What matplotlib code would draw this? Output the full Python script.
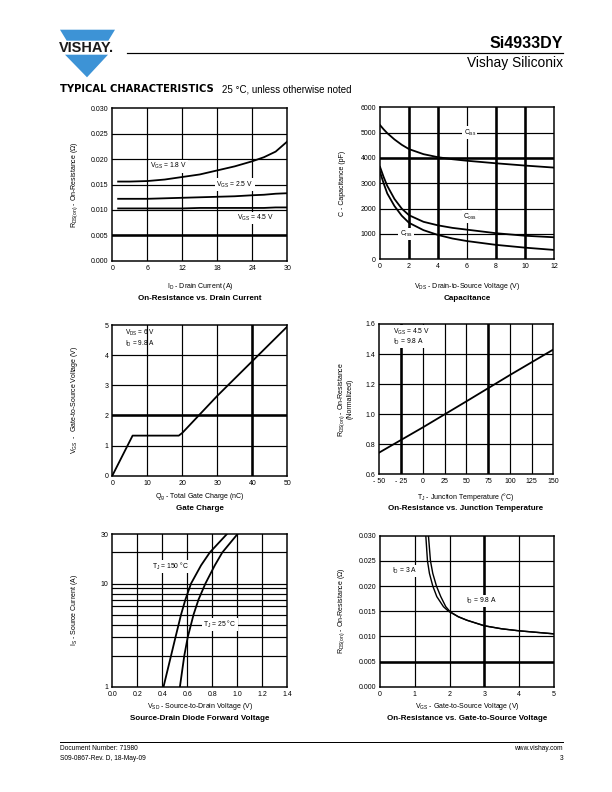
import matplotlib
matplotlib.use("Agg")
import matplotlib.pyplot as plt
from matplotlib.patches import Polygon
import numpy as np

plt.rcParams['font.family'] = ['Liberation Sans', 'DejaVu Sans']
plt.rcParams['mathtext.fontset'] = 'custom'
plt.rcParams['mathtext.rm'] = 'Liberation Sans'
plt.rcParams['mathtext.it'] = 'Liberation Sans:italic'
plt.rcParams['mathtext.default'] = 'regular'

# --- data ---
# on-resistance vs drain current
id_a = [1, 3, 6, 9, 12, 15, 18, 21, 24, 26, 28, 30]
rds_18 = [0.0156, 0.0156, 0.0157, 0.0160, 0.0165, 0.0170, 0.0178, 0.0186, 0.0196, 0.0204, 0.0215, 0.0235]
rds_25 = [0.0122, 0.0122, 0.0122, 0.0123, 0.0124, 0.0125, 0.0126, 0.0127, 0.0129, 0.0130, 0.0132, 0.0133]
rds_45 = [0.0103, 0.0103, 0.0103, 0.0103, 0.0103, 0.0104, 0.0104, 0.0104, 0.0104, 0.0104, 0.0105, 0.0105]

# capacitance
vds = [0, 0.25, 0.5, 1, 1.5, 2, 3, 4, 5, 6, 8, 10, 12]
ciss = [5300, 5130, 4980, 4730, 4520, 4350, 4150, 4030, 3950, 3890, 3790, 3700, 3620]
coss = [3650, 3250, 2900, 2380, 2000, 1740, 1480, 1340, 1240, 1170, 1030, 930, 870]
crss = [3450, 3000, 2600, 2100, 1720, 1440, 1150, 960, 820, 720, 570, 460, 370]

# gate charge
qg = [0, 5.8, 19, 20, 30, 40, 50]
vgs_q = [0, 1.33, 1.33, 1.42, 2.65, 3.8, 4.95]

# on-resistance vs junction temperature
tj = [-50, 0, 50, 100, 150]
r_norm = [0.745, 0.912, 1.085, 1.26, 1.43]

# source-drain diode
is_a = [1, 2, 3, 5, 7, 10, 15, 20, 30]
vsd_150 = [0.41, 0.47, 0.505, 0.55, 0.585, 0.63, 0.71, 0.78, 0.915]
vsd_25 = [0.541, 0.576, 0.603, 0.65, 0.69, 0.745, 0.82, 0.88, 1.0]

# on-resistance vs gate-to-source voltage
vgs_3a = [1.316, 1.364, 1.421, 1.517, 1.632, 1.823, 1.967, 2.25, 2.5, 3, 3.5, 4, 4.5, 5]
r_3a = [0.030, 0.025, 0.0225, 0.020, 0.0179, 0.0159, 0.0150, 0.0139, 0.0132, 0.0121, 0.0115, 0.0111, 0.0108, 0.0105]
vgs_98 = [1.392, 1.450, 1.517, 1.622, 1.746, 1.89, 2.014, 2.25, 2.5, 3, 3.5, 4, 4.5, 5]
r_98 = [0.030, 0.025, 0.0225, 0.020, 0.0179, 0.0159, 0.0149, 0.0139, 0.0132, 0.0121, 0.0115, 0.0111, 0.0108, 0.0105]

W, H = 612, 792
fig = plt.figure(figsize=(W / 72, H / 72), dpi=72)

TICK = 7
LAB = 7
INNER = 6.8
TITLE = 8

def px(x, y):
    return x / W, 1 - y / H

def panel(l, r, t, b):
    ax = fig.add_axes([l / W, 1 - b / H, (r - l) / W, (b - t) / H])
    for s in ax.spines.values():
        s.set_linewidth(1.5)
    ax.tick_params(which='both', length=0, pad=4, labelsize=TICK)
    return ax

def grid(ax, xs, ys, thick_x=(), thick_y=()):
    for x in xs:
        ax.axvline(x, color='black', lw=2.6 if x in thick_x else 1.2, zorder=1)
    for y in ys:
        ax.axhline(y, color='black', lw=2.6 if y in thick_y else 1.2, zorder=1)

def lab(ax, x, y, s, **kw):
    kw.setdefault('ha', 'center')
    ax.text(x, y, s, fontsize=INNER, va='center', zorder=3, linespacing=1.05,
            bbox=dict(facecolor='white', edgecolor='none', pad=1.2), **kw)

def ftext(x, y, s, **kw):
    kw.setdefault('fontsize', LAB)
    kw.setdefault('ha', 'center')
    kw.setdefault('va', 'center')
    fig.text(*px(x, y), s, **kw)

LW = 1.8

# --- panel 1 ---
ax = panel(112.3, 287.3, 108.5, 260.7)
ax.set_xlim(0, 30); ax.set_ylim(0, 0.030)
ax.set_xticks([0, 6, 12, 18, 24, 30])
ax.set_yticks([0, 0.005, 0.010, 0.015, 0.020, 0.025, 0.030])
ax.set_yticklabels(['0.000', '0.005', '0.010', '0.015', '0.020', '0.025', '0.030'])
grid(ax, [6, 12, 18, 24], [0.005, 0.010, 0.015, 0.020, 0.025], thick_y=(0.005,))
ax.plot(id_a, rds_18, color='black', lw=LW, zorder=4)
ax.plot(id_a, rds_25, color='black', lw=LW, zorder=4)
ax.plot(id_a, rds_45, color='black', lw=LW, zorder=4)
lab(ax, 9.6, 0.0186, '$V_{GS}$ = 1.8 V')
lab(ax, 21.0, 0.0150, '$V_{GS}$ = 2.5 V')
lab(ax, 24.6, 0.0084, '$V_{GS}$ = 4.5 V')
ftext(75, 185, '$R_{DS(on)}$ - On-Resistance (Ω)', rotation=90)
ftext(200, 287, '$I_D$ - Drain Current (A)')
ftext(200, 298.5, 'On-Resistance vs. Drain Current', fontweight='bold', fontsize=TITLE)

# --- panel 2 ---
ax = panel(380, 554, 107.3, 259.3)
ax.set_xlim(0, 12); ax.set_ylim(0, 6000)
ax.set_xticks([0, 2, 4, 6, 8, 10, 12])
ax.set_yticks([0, 1000, 2000, 3000, 4000, 5000, 6000])
grid(ax, [2, 4, 6, 8, 10], [1000, 2000, 3000, 4000, 5000], thick_x=(2, 4, 8, 10), thick_y=(4000,))
ax.plot(vds, ciss, color='black', lw=LW, zorder=4)
ax.plot(vds, coss, color='black', lw=LW, zorder=4)
ax.plot(vds, crss, color='black', lw=LW, zorder=4)
lab(ax, 6.2, 5000, '$C_{iss}$')
lab(ax, 6.2, 1680, '$C_{oss}$')
lab(ax, 1.8, 1000, '$C_{rss}$')
ftext(342, 183, 'C - Capacitance (pF)', rotation=90)
ftext(467, 286.5, '$V_{DS}$ - Drain-to-Source Voltage (V)')
ftext(467, 298.5, 'Capacitance', fontweight='bold', fontsize=TITLE)

# --- panel 3 ---
ax = panel(112.3, 287.3, 325, 475.7)
ax.set_xlim(0, 50); ax.set_ylim(0, 5)
ax.set_xticks([0, 10, 20, 30, 40, 50])
ax.set_yticks([0, 1, 2, 3, 4, 5])
grid(ax, [10, 20, 30, 40], [1, 2, 3, 4], thick_x=(40,), thick_y=(2,))
ax.plot(qg, vgs_q, color='black', lw=LW, zorder=4)
ax.text(3.6, 4.56, '$V_{DS}$ = 6 V\n$I_D$ = 9.8 A', fontsize=6.5, ha='left', va='center',
        linespacing=1.05, zorder=3)
ftext(75, 400, '$V_{GS}$  -  Gate-to-Source Voltage (V)', rotation=90)
ftext(200, 497, '$Q_g$ - Total Gate Charge (nC)')
ftext(200, 509, 'Gate Charge', fontweight='bold', fontsize=TITLE)

# --- panel 4 ---
ax = panel(379.3, 553.3, 324, 474.3)
ax.set_xlim(-50, 150); ax.set_ylim(0.6, 1.6)
ax.set_xticks([-50, -25, 0, 25, 50, 75, 100, 125, 150])
ax.set_xticklabels(['- 50', '- 25', '0', '25', '50', '75', '100', '125', '150'])
ax.set_yticks([0.6, 0.8, 1.0, 1.2, 1.4, 1.6])
ax.set_yticklabels(['0.6', '0.8', '1.0', '1.2', '1.4', '1.6'])
grid(ax, [-25, 0, 25, 50, 75, 100, 125], [0.8, 1.0, 1.2, 1.4], thick_x=(-25, 75))
ax.plot(tj, r_norm, color='black', lw=LW, zorder=4)
lab(ax, -34, 1.515, '$V_{GS}$ = 4.5 V\n$I_D$ = 9.8 A', ha='left')
ftext(345, 399, '$R_{DS(on)}$ - On-Resistance\n(Normalized)', rotation=90, linespacing=1.0)
ftext(466, 497, '$T_J$ - Junction Temperature (°C)')
ftext(466, 509, 'On-Resistance vs. Junction Temperature', fontweight='bold', fontsize=TITLE)

# --- panel 5 ---
ax = panel(112.3, 287.3, 534.3, 686.7)
ax.set_yscale('log')
ax.set_xlim(0, 1.4); ax.set_ylim(1, 30)
ax.set_xticks([0, 0.2, 0.4, 0.6, 0.8, 1.0, 1.2, 1.4])
ax.set_xticklabels(['0.0', '0.2', '0.4', '0.6', '0.8', '1.0', '1.2', '1.4'])
ax.set_yticks([1, 10, 30])
ax.set_yticklabels(['1', '10', '30'])
ax.minorticks_off()
ax.tick_params(which='both', length=0)
grid(ax, [0.2, 0.4, 0.6, 0.8, 1.0, 1.2], [2, 3, 4, 5, 6, 7, 8, 9, 10, 20])
ax.plot(vsd_150, is_a, color='black', lw=LW, zorder=4)
ax.plot(vsd_25, is_a, color='black', lw=LW, zorder=4)
lab(ax, 0.467, 14.6, '$T_J$ = 150 °C')
lab(ax, 0.862, 4.0, '$T_J$ = 25 °C')
ftext(75, 610, '$I_S$ - Source Current (A)', rotation=90)
ftext(200, 707, '$V_{SD}$ - Source-to-Drain Voltage (V)')
ftext(200, 719, 'Source-Drain Diode Forward Voltage', fontweight='bold', fontsize=TITLE)

# --- panel 6 ---
ax = panel(380, 554, 535.7, 686.7)
ax.set_xlim(0, 5); ax.set_ylim(0, 0.030)
ax.set_xticks([0, 1, 2, 3, 4, 5])
ax.set_yticks([0, 0.005, 0.010, 0.015, 0.020, 0.025, 0.030])
ax.set_yticklabels(['0.000', '0.005', '0.010', '0.015', '0.020', '0.025', '0.030'])
grid(ax, [1, 2, 3, 4], [0.005, 0.010, 0.015, 0.020, 0.025], thick_x=(3,), thick_y=(0.005,))
ax.plot(vgs_3a, r_3a, color='black', lw=1.4, zorder=4)
ax.plot(vgs_98, r_98, color='black', lw=1.4, zorder=4)
lab(ax, 0.72, 0.0230, '$I_D$ = 3 A')
lab(ax, 2.91, 0.0170, '$I_D$ = 9.8 A')
ftext(342, 611, '$R_{DS(on)}$ - On-Resistance (Ω)', rotation=90)
ftext(467, 707, '$V_{GS}$ - Gate-to-Source Voltage (V)')
ftext(467, 719, 'On-Resistance vs. Gate-to-Source Voltage', fontweight='bold', fontsize=TITLE)

# --- page header ---
blue = '#3d93d6'
fig.patches.append(Polygon([px(60, 29.7), px(115, 29.7), px(108.3, 40.7), px(66.7, 40.7)],
                           closed=True, facecolor=blue, edgecolor='none', transform=fig.transFigure))
fig.patches.append(Polygon([px(65, 54.7), px(108, 54.7), px(87, 77.3)],
                           closed=True, facecolor=blue, edgecolor='none', transform=fig.transFigure))
ftext(59, 48.5, 'VISHAY.', fontsize=14.5, fontweight='bold', ha='left', color='#1a1a1a')
fig.add_artist(plt.Line2D([127 / W, 563 / W], [1 - 53 / H, 1 - 53 / H], color='black', lw=1.2,
                          transform=fig.transFigure))
ftext(563, 44, 'Si4933DY', fontsize=16, fontweight='bold', ha='right')
ftext(563, 63, 'Vishay Siliconix', fontsize=13.8, ha='right')
ftext(60, 89, 'TYPICAL CHARACTERISTICS', fontsize=10, fontweight='bold', ha='left',
      family=['DejaVu Sans'])
ftext(222, 89, '25 °C, unless otherwise noted', fontsize=9.8, ha='left')

# --- footer ---
fig.add_artist(plt.Line2D([60 / W, 563 / W], [1 - 742 / H, 1 - 742 / H], color='black', lw=1.0,
                          transform=fig.transFigure))
ftext(60, 748, 'Document Number: 71980', fontsize=6.6, ha='left')
ftext(60, 758, 'S09-0867-Rev. D, 18-May-09', fontsize=6.6, ha='left')
ftext(563, 748, 'www.vishay.com', fontsize=6.6, ha='right')
ftext(563, 758, '3', fontsize=6.6, ha='right')

fig.savefig('out.png', dpi=72)
